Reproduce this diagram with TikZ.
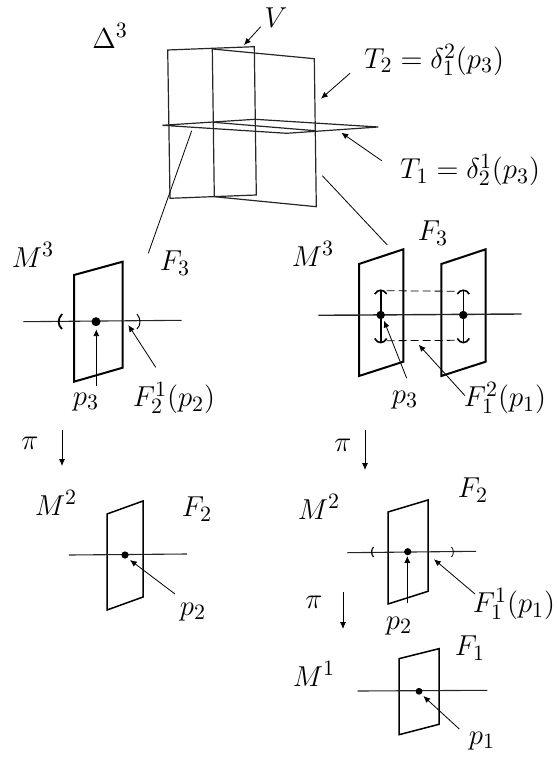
\documentclass[tikz,border=0pt]{standalone}
\usetikzlibrary{arrows.meta}
\tikzset{
  thinplane/.style={draw=black!85,line width=0.6pt,line join=miter},
  plane/.style={draw=black,line width=0.75pt},
  boldplane/.style={draw=black,line width=1pt},
  axis/.style={draw=black!85,line width=0.55pt},
  ptr/.style={draw=black,line width=0.4pt,-{Latex[length=3.4pt,width=3pt]},shorten >=0pt},
  lead/.style={draw=black,line width=0.4pt},
  dotnode/.style={circle,fill=black,inner sep=0pt},
  lab/.style={inner sep=0pt,font=\fontsize{15.5}{17}\selectfont},
}
\begin{document}
\begin{tikzpicture}[x=0.5pt,y=-0.5pt]
\useasboundingbox (0,0) rectangle (558,759);
% top
\draw[thinplane] (167.7,50) -- (254.3,46.7) -- (256.3,195) -- (170,198.3) -- cycle;
\draw[thinplane] (212.3,49) -- (314.3,58.7) -- (316.3,206.7) -- (214.3,196.7) -- cycle;
\draw[thinplane] (162.3,125.3) -- (255,119.3) -- (378.3,127) -- (286.7,133.3) -- cycle;
\draw[thinplane] (213.3,122.3) -- (315,130.7);
\node[lab] (delta) at (110,36) {$\Delta^3$};
\node[lab] (v) at (276,18) {$V$};
\node[lab] (t2) at (434,60) {$T_2=\delta_1^2(p_3)$};
\node[lab] (t1) at (470,170) {$T_1=\delta_2^1(p_3)$};
\coordinate (vs) at (260.7,26.7); \coordinate (ve) at (244,45);
\draw[ptr] (vs) -- (ve);
\coordinate (t2s) at (350,73.3); \coordinate (t2e) at (321,98.7);
\draw[ptr] (t2s) -- (t2e);
\coordinate (t1s) at (381.7,160.7); \coordinate (t1e) at (341.3,132.7);
\draw[ptr] (t1s) -- (t1e);
\coordinate (fla) at (191.7,130.7); \coordinate (flb) at (148.3,253.3);
\draw[lead] (fla) -- (flb);
\coordinate (fra) at (322.3,175.7); \coordinate (frb) at (387.3,245);
\draw[lead] (fra) -- (frb);
% left M3
\node[lab] (m3l) at (33,255) {$M^3$};
\node[lab] (f3l) at (175,263) {$F_3$};
\node[lab] (p3l) at (86,402) {$p_3$};
\node[lab] (fl) at (174,398) {$F_2^1(p_2)$};
\draw[boldplane] (74,275) -- (122.7,261.7) -- (122.7,367.7) -- (74,381.7) -- cycle;
\draw[axis] (23.3,321.7) -- (181.7,320.3);
\node[dotnode,minimum size=4.5pt] (d3l) at (96,321.7) {};
\draw[line width=0.9pt] (62,314) .. controls (57.5,319) and (57.5,325) .. (62,329);
\draw[line width=0.5pt] (137,314) .. controls (141,319) and (141,325) .. (137,329);
\coordinate (p3ls) at (96.3,386); \coordinate (p3le) at (96.3,329.3);
\draw[ptr] (p3ls) -- (p3le);
\coordinate (fls) at (155.7,367.3); \coordinate (fle) at (128.3,325);
\draw[ptr] (fls) -- (fle);
% right M3
\node[lab] (m3r) at (313,254) {$M^3$};
\node[lab] (f3r) at (433,233) {$F_3$};
\node[lab] (p3r) at (405,400) {$p_3$};
\node[lab] (fr) at (505,398) {$F_1^2(p_1)$};
\draw[boldplane] (359,264) -- (403.3,249.3) -- (403.3,361.7) -- (359,376) -- cycle;
\draw[boldplane] (441.3,264) -- (485.7,249.3) -- (485.7,361.7) -- (441.3,376) -- cycle;
\draw[axis,line width=0.7pt] (318.3,315.3) -- (521.7,314);
\node[dotnode,minimum size=4.2pt] (d3a) at (380.7,315) {};
\node[dotnode,minimum size=4.2pt] (d3b) at (463.3,315) {};
\foreach \x in {380.7,463.3}{
  \draw[line width=0.8pt] (\x,290) -- (\x,342.7);
  \draw[line width=0.8pt] (\x-6,294) .. controls (\x-3,289) and (\x+3,289) .. (\x+6,294);
  \draw[line width=0.8pt] (\x-6,338.5) .. controls (\x-3,344) and (\x+3,344) .. (\x+6,338.5);
}
\draw[dashed,line width=0.4pt,dash pattern=on 4pt off 2pt] (386.7,290.7) -- (458.3,291.3);
\draw[dashed,line width=0.4pt,dash pattern=on 4pt off 2pt] (386.7,340.7) -- (458.3,340.3);
\coordinate (p3rs) at (406.7,378.3); \coordinate (p3re) at (384,320.7);
\draw[ptr] (p3rs) -- (p3re);
\coordinate (frs) at (465,395.7); \coordinate (fre) at (418.7,344.7);
\draw[ptr] (frs) -- (fre);
% pi
\node[lab] (pil) at (30,443) {$\pi$};
\coordinate (pils) at (62,430); \coordinate (pile) at (62,466);
\draw[ptr] (pils) -- (pile);
\node[lab] (pir) at (343,445) {$\pi$};
\coordinate (pirs) at (365,430); \coordinate (pire) at (365,470);
\draw[ptr] (pirs) -- (pire);
% left M2
\node[lab] (m2l) at (56,503) {$M^2$};
\node[lab] (f2l) at (197,509) {$F_2$};
\node[lab] (p2l) at (193,612) {$p_2$};
\draw[plane] (107,514) -- (143,501) -- (143,597) -- (107,610) -- cycle;
\draw[axis] (69,555) -- (187,554);
\node[dotnode,minimum size=3.6pt] (d2l) at (125,555) {};
\coordinate (p2ls) at (175,594); \coordinate (p2le) at (130,560);
\draw[ptr] (p2ls) -- (p2le);
% right M2
\node[lab] (m2r) at (319,507) {$M^2$};
\node[lab] (f2r) at (473,490) {$F_2$};
\node[lab] (frr) at (514,604) {$F_1^1(p_1)$};
\node[lab] (p2r) at (399,626) {$p_2$};
\draw[plane] (388,512) -- (428,500) -- (428,591.3) -- (388,604) -- cycle;
\draw[axis] (347.3,552.7) -- (476,551.3);
\node[dotnode,minimum size=3.6pt] (d2r) at (407.7,551.7) {};
\draw[line width=0.6pt] (373.5,547) .. controls (371,550) and (371,554) .. (373.5,557);
\draw[line width=0.4pt] (451.5,547) .. controls (454,550) and (454,554) .. (451.5,557);
\coordinate (p2rs) at (407.3,603.3); \coordinate (p2re) at (407.3,556);
\draw[ptr] (p2rs) -- (p2re);
\coordinate (frrs) at (475,594); \coordinate (frre) at (434,559.3);
\draw[ptr] (frrs) -- (frre);
\node[lab] (pib) at (314,602) {$\pi$};
\coordinate (pibs) at (343,592); \coordinate (pibe) at (343,629);
\draw[ptr] (pibs) -- (pibe);
% M1
\node[lab] (m1) at (314,674) {$M^1$};
\node[lab] (f1) at (470,648) {$F_1$};
\node[lab] (p1) at (482,741) {$p_1$};
\draw[plane] (399,658.7) -- (439,648.7) -- (439,724.3) -- (399,734.7) -- cycle;
\draw[axis] (357.7,691) -- (487.3,690.3);
\node[dotnode,minimum size=3.4pt] (d1) at (419,691.3) {};
\coordinate (p1s) at (459.3,729); \coordinate (p1e) at (423.3,696);
\draw[ptr] (p1s) -- (p1e);
\end{tikzpicture}
\end{document}
